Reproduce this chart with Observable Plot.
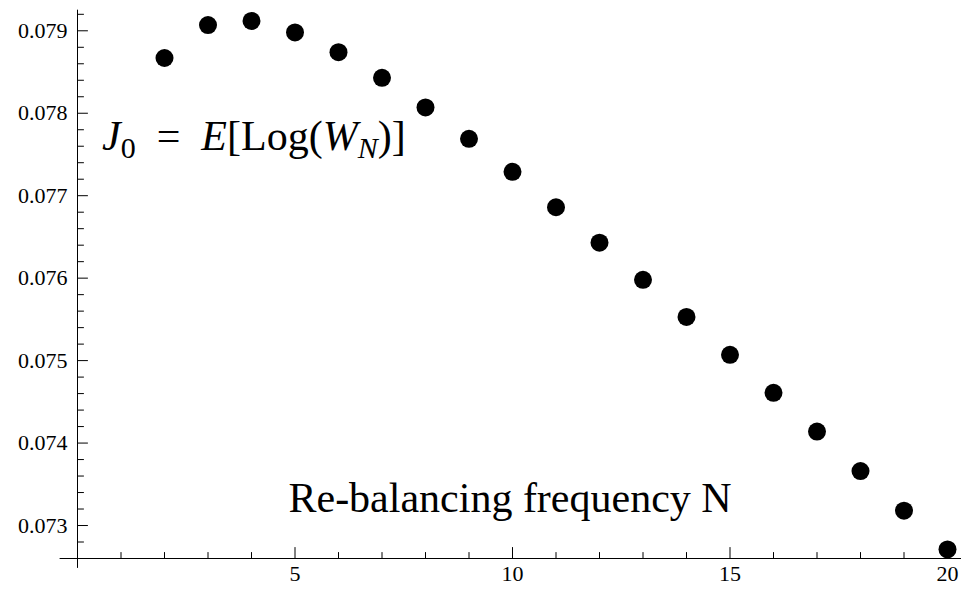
<!DOCTYPE html>
<html>
<head>
<meta charset="utf-8">
<script src="https://cdn.jsdelivr.net/npm/d3@7"></script>
<script src="https://cdn.jsdelivr.net/npm/@observablehq/plot@0.6"></script>
<style>
  html, body { margin: 0; padding: 0; background: #fff; overflow: hidden; }
  #chart svg { display: block; }
</style>
</head>
<body>
<div id="chart"></div>
<script>
// ---- data ----
const N = [2, 3, 4, 5, 6, 7, 8, 9, 10, 11, 12, 13, 14, 15, 16, 17, 18, 19, 20];
const J0 = [0.07867, 0.07907, 0.07912, 0.07898, 0.07874, 0.07843, 0.07807, 0.07769, 0.07729,
            0.07686, 0.07643, 0.07598, 0.07553, 0.07507, 0.07461, 0.07414, 0.07366, 0.07318, 0.07271];

// ---- ticks & labels ----
const xMajorTicks = [5, 10, 15, 20];
const xMinorTicks = [1, 2, 3, 4, 6, 7, 8, 9, 11, 12, 13, 14, 16, 17, 18, 19];
const yMajorTicks = [0.073, 0.074, 0.075, 0.076, 0.077, 0.078, 0.079];
const yMinorTicks = [0.0728, 0.0732, 0.0734, 0.0736, 0.0738, 0.0742, 0.0744, 0.0746, 0.0748,
                     0.0752, 0.0754, 0.0756, 0.0758, 0.0762, 0.0764, 0.0766, 0.0768,
                     0.0772, 0.0774, 0.0776, 0.0778, 0.0782, 0.0784, 0.0786, 0.0788, 0.0792];
const xLabel = "Re-balancing frequency N";

const data = N.map((n, i) => ({n, j: J0[i]}));
const serif = "'Liberation Serif', 'DejaVu Serif', serif";

// simple straight tick shape for vectors
const tick = {draw(ctx, l) { ctx.moveTo(0, 0); ctx.lineTo(0, -l); }};

const chart = Plot.plot({
  width: 961,
  height: 592,
  marginLeft: 77,
  marginRight: 14,
  marginTop: 13.8,
  marginBottom: 34,
  x: {domain: [0, 20], axis: null},
  y: {domain: [0.0726, 0.0792], axis: null},
  style: {fontFamily: serif, background: "white", color: "black"},
  marks: [
    // axis lines
    Plot.ruleX([0], {y1: 0.07248, y2: 0.07925, stroke: "black", strokeWidth: 1}),
    Plot.ruleY([0.0726], {x1: -0.4, x2: 20.4, stroke: "black", strokeWidth: 1}),
    // y ticks (pointing right, into the plot)
    Plot.vector(yMajorTicks, {y: d => d, frameAnchor: "left", length: 10, rotate: 90, anchor: "start", shape: tick, stroke: "black", strokeWidth: 1}),
    Plot.vector(yMinorTicks, {y: d => d, frameAnchor: "left", length: 6, rotate: 90, anchor: "start", shape: tick, stroke: "black", strokeWidth: 1}),
    // x ticks (pointing up)
    Plot.vector(xMajorTicks, {x: d => d, frameAnchor: "bottom", length: 11, rotate: 0, anchor: "start", shape: tick, stroke: "black", strokeWidth: 1}),
    Plot.vector(xMinorTicks, {x: d => d, frameAnchor: "bottom", length: 6, rotate: 0, anchor: "start", shape: tick, stroke: "black", strokeWidth: 1}),
    // tick labels
    Plot.text(yMajorTicks, {y: d => d, text: d => d.toFixed(3), frameAnchor: "left", textAnchor: "end", dx: -10, fontSize: 22, fontFamily: serif, fill: "black"}),
    Plot.text(xMajorTicks, {x: d => d, text: d => String(d), frameAnchor: "bottom", dy: 22, fontSize: 22, fontFamily: serif, fill: "black"}),
    // data
    Plot.dot(data, {x: "n", y: "j", r: 9, fill: "black", stroke: null}),
    // in-plot label
    Plot.text([xLabel], {x: 4.85, y: 0.07317, text: d => d, textAnchor: "start", lineAnchor: "bottom", fontSize: 42, fontFamily: serif, fill: "black"})
  ]
});

// formula annotation with sub/italic parts, placed via the chart's scales
const sx = chart.scale("x"), sy = chart.scale("y");
const t = d3.select(chart).append("text")
  .attr("x", sx.apply(0.575))
  .attr("y", sy.apply(0.07755))
  .attr("text-anchor", "start")
  .attr("font-family", serif)
  .attr("font-size", 42)
  .attr("fill", "black")
  .attr("xml:space", "preserve")
  .style("white-space", "pre");
const parts = [
  {s: "J", italic: true},
  {s: "0", sub: true},
  {s: "\u2002=\u2002"},
  {s: "E", italic: true},
  {s: "[Log("},
  {s: "W", italic: true},
  {s: "N", italic: true, sub: true},
  {s: ")]"}
];
let shifted = false;
for (const p of parts) {
  const ts = t.append("tspan").text(p.s);
  if (p.italic) ts.attr("font-style", "italic");
  if (p.sub) {
    ts.attr("font-size", 30);
    if (!shifted) { ts.attr("dy", 8); shifted = true; }
  } else if (shifted) {
    ts.attr("dy", -8); shifted = false;
  }
}

document.getElementById("chart").appendChild(chart);
</script>
</body>
</html>
